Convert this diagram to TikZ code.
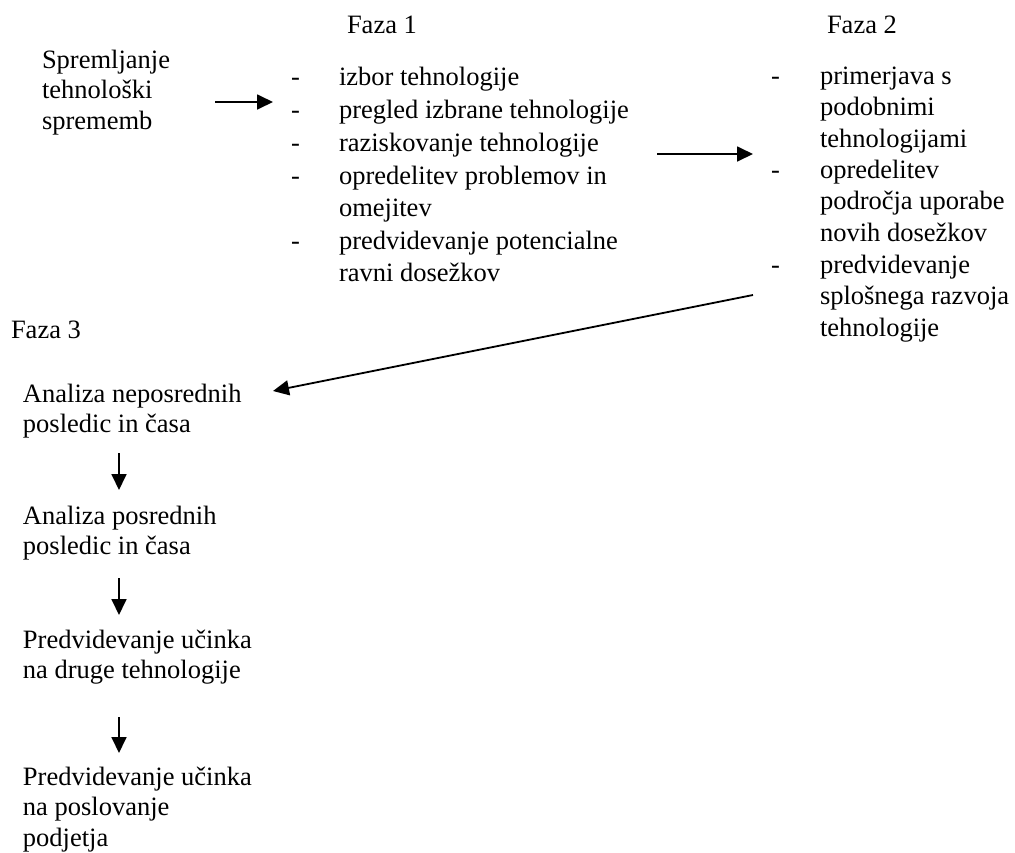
\documentclass[tikz,border=0pt]{standalone}
\usepackage{fontspec}
\setmainfont{Liberation Serif}
\usetikzlibrary{arrows.meta}
\newcommand\mlines[1]{\vtop{\halign{##\hfil\cr #1\crcr}}}
\tikzset{
  txt/.style={anchor=base west, inner sep=0pt, outer sep=0pt,
    font=\fontsize{26.5}{30.5}\selectfont},
  lstA/.style={txt, font=\fontsize{26.5}{32.7}\selectfont},
  lstB/.style={txt, font=\fontsize{26.5}{31.5}\selectfont},
  arr/.style={line width=1.8pt, -{Triangle[length=16pt,width=15pt]}}
}
\begin{document}
\begin{tikzpicture}[x=1pt,y=-1pt]
\useasboundingbox (0,0) rectangle (1015,852);
% titles
\node[txt] (f1) at (347,33) {Faza 1};
\node[txt] (f2) at (827,33) {Faza 2};
\node[txt] (f3) at (11,338) {Faza 3};
% start
\node[txt] (start) at (42,68) {\mlines{Spremljanje\cr tehnološki\cr sprememb}};
% Faza 1 list
\node[lstA] (d11) at (291,85) {-};
\node[lstA] (i11) at (339,85) {izbor tehnologije};
\node[lstA] (d12) at (291,118) {-};
\node[lstA] (i12) at (339,118) {pregled izbrane tehnologije};
\node[lstA] (d13) at (291,151) {-};
\node[lstA] (i13) at (339,151) {raziskovanje tehnologije};
\node[lstA] (d14) at (291,184) {-};
\node[lstA] (i14) at (339,184) {\mlines{opredelitev problemov in\cr omejitev}};
\node[lstA] (d15) at (291,249) {-};
\node[lstA] (i15) at (339,249) {\mlines{predvidevanje potencialne\cr ravni dosežkov}};
% Faza 2 list
\node[lstB] (d21) at (771,84) {-};
\node[lstB] (i21) at (820,84) {\mlines{primerjava s\cr podobnimi\cr tehnologijami}};
\node[lstB] (d22) at (771,178) {-};
\node[lstB] (i22) at (820,178) {\mlines{opredelitev\cr področja uporabe\cr novih dosežkov}};
\node[lstB] (d23) at (771,273) {-};
\node[lstB] (i23) at (820,273) {\mlines{predvidevanje\cr splošnega razvoja\cr tehnologije}};
% Faza 3 steps
\node[txt] (s1) at (23,402) {\mlines{Analiza neposrednih\cr posledic in časa}};
\node[txt] (s2) at (23,524) {\mlines{Analiza posrednih\cr posledic in časa}};
\node[txt] (s3) at (23,648) {\mlines{Predvidevanje učinka\cr na druge tehnologije}};
\node[txt] (s4) at (23,785) {\mlines{Predvidevanje učinka\cr na poslovanje\cr podjetja}};
% arrow end points
\coordinate (a1s) at (215,102);
\coordinate (a1e) at (273,102);
\coordinate (a2s) at (657,154);
\coordinate (a2e) at (753,154);
\coordinate (a3s) at (753,295);
\coordinate (a3e) at (273,391);
\coordinate (b1s) at (119,453);
\coordinate (b1e) at (119,490);
\coordinate (b2s) at (119,578);
\coordinate (b2e) at (119,615);
\coordinate (b3s) at (119,717);
\coordinate (b3e) at (119,753);
\draw[arr] (a1s) -- (a1e);
\draw[arr] (a2s) -- (a2e);
\draw[arr] (a3s) -- (a3e);
\draw[arr] (b1s) -- (b1e);
\draw[arr] (b2s) -- (b2e);
\draw[arr] (b3s) -- (b3e);
\end{tikzpicture}
\end{document}
